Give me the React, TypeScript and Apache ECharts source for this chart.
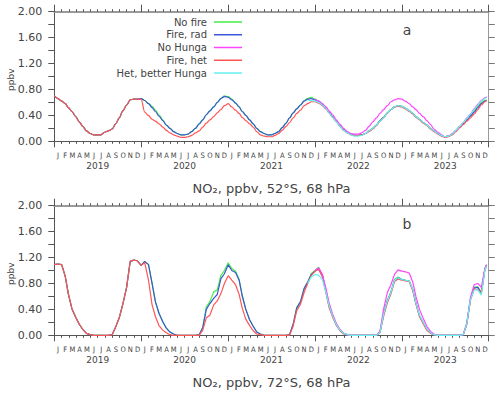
import { useEffect, useRef } from "react";
import * as echarts from "echarts";

// ---------- labels ----------
const years = ["2019", "2020", "2021", "2022", "2023"];
const monthLetters = ["J", "F", "M", "A", "M", "J", "J", "A", "S", "O", "N", "D"];
const seriesNames = ["No fire", "Fire, rad", "No Hunga", "Fire, het", "Het, better Hunga"];
const seriesColors: Record<string, string> = {
  "No fire": "#44ee44",
  "Fire, rad": "#3a56d8",
  "No Hunga": "#ff44ff",
  "Fire, het": "#ff5555",
  "Het, better Hunga": "#66f0f0",
};
const drawOrder = ["No fire", "Fire, rad", "Fire, het", "No Hunga", "Het, better Hunga"];
const panelTitles = ["NO\u2082, ppbv, 52\u00b0S, 68 hPa", "NO\u2082, ppbv, 72\u00b0S, 68 hPa"];
const panelLetters = ["a", "b"];
const yUnit = "ppbv";

// ---------- data: half-monthly values (1st and 16th of each month), last value = 23 Dec 2023 ----------
// Panel a: 52°S
const top2019 = [0.70, 0.66, 0.62, 0.58, 0.52, 0.46, 0.38, 0.30, 0.23, 0.16, 0.12, 0.10, 0.10, 0.10, 0.14, 0.16, 0.19, 0.27, 0.36, 0.47, 0.56, 0.64, 0.65, 0.65];
const topNoFire = [
  0.66, 0.63, 0.58, 0.54, 0.48, 0.41, 0.33, 0.25, 0.20, 0.15, 0.12, 0.10, 0.10, 0.11, 0.15, 0.20, 0.27, 0.33, 0.41, 0.47, 0.53, 0.60, 0.66, 0.70,
  0.69, 0.65, 0.59, 0.53, 0.46, 0.40, 0.33, 0.27, 0.20, 0.15, 0.12, 0.10, 0.10, 0.12, 0.15, 0.21, 0.28, 0.36, 0.44, 0.50, 0.56, 0.63, 0.66, 0.68,
  0.65, 0.62, 0.57, 0.52, 0.45, 0.38, 0.31, 0.24, 0.18, 0.14, 0.11, 0.09, 0.09, 0.10, 0.12, 0.16, 0.20, 0.25, 0.32, 0.37, 0.44, 0.49, 0.53, 0.55,
  0.54, 0.51, 0.47, 0.43, 0.38, 0.34, 0.29, 0.25, 0.20, 0.16, 0.12, 0.09, 0.07, 0.08, 0.11, 0.17, 0.23, 0.28, 0.34, 0.40, 0.47, 0.54, 0.60, 0.63, 0.64,
];
const topFireRad = [
  0.66, 0.63, 0.58, 0.52, 0.46, 0.39, 0.32, 0.25, 0.20, 0.15, 0.12, 0.10, 0.10, 0.11, 0.15, 0.20, 0.27, 0.33, 0.41, 0.47, 0.53, 0.60, 0.66, 0.69,
  0.68, 0.64, 0.59, 0.53, 0.46, 0.40, 0.33, 0.27, 0.20, 0.15, 0.12, 0.10, 0.10, 0.12, 0.15, 0.21, 0.28, 0.36, 0.44, 0.50, 0.56, 0.62, 0.65, 0.66,
  0.64, 0.62, 0.57, 0.52, 0.45, 0.38, 0.31, 0.24, 0.18, 0.14, 0.11, 0.09, 0.09, 0.10, 0.12, 0.16, 0.20, 0.25, 0.32, 0.37, 0.44, 0.49, 0.53, 0.55,
  0.54, 0.51, 0.47, 0.43, 0.38, 0.34, 0.29, 0.25, 0.20, 0.16, 0.12, 0.09, 0.07, 0.08, 0.11, 0.16, 0.22, 0.27, 0.33, 0.39, 0.45, 0.52, 0.58, 0.62, 0.63,
];
const topFireHet = [
  0.65, 0.45, 0.40, 0.34, 0.31, 0.27, 0.22, 0.17, 0.13, 0.10, 0.08, 0.06, 0.06, 0.07, 0.09, 0.13, 0.16, 0.22, 0.28, 0.33, 0.38, 0.44, 0.49, 0.55,
  0.58, 0.53, 0.48, 0.43, 0.37, 0.32, 0.27, 0.22, 0.15, 0.10, 0.08, 0.07, 0.07, 0.09, 0.12, 0.17, 0.23, 0.29, 0.36, 0.43, 0.48, 0.55, 0.58, 0.61,
  0.61, 0.59, 0.55, 0.50, 0.44, 0.37, 0.30, 0.23, 0.17, 0.13, 0.10, 0.09, 0.09, 0.10, 0.12, 0.15, 0.19, 0.24, 0.31, 0.36, 0.43, 0.49, 0.53, 0.54,
  0.53, 0.50, 0.46, 0.42, 0.37, 0.33, 0.28, 0.24, 0.19, 0.15, 0.11, 0.08, 0.06, 0.07, 0.10, 0.15, 0.21, 0.26, 0.31, 0.36, 0.42, 0.49, 0.56, 0.61, 0.63,
];
// from 1 Jan 2022
const topNoHunga = [
  0.65, 0.62, 0.58, 0.53, 0.47, 0.41, 0.33, 0.26, 0.20, 0.15, 0.12, 0.11, 0.11, 0.13, 0.17, 0.23, 0.30, 0.36, 0.43, 0.49, 0.55, 0.61, 0.64, 0.66,
  0.65, 0.62, 0.58, 0.53, 0.49, 0.43, 0.38, 0.32, 0.26, 0.19, 0.14, 0.10, 0.07, 0.08, 0.12, 0.17, 0.23, 0.29, 0.36, 0.42, 0.50, 0.57, 0.63, 0.67, 0.69,
];
// from 1 Dec 2021
const topHetBetter = [
  0.63, 0.63,
  0.62, 0.60, 0.56, 0.51, 0.44, 0.37, 0.30, 0.23, 0.17, 0.13, 0.10, 0.08, 0.08, 0.09, 0.12, 0.16, 0.20, 0.25, 0.31, 0.36, 0.44, 0.49, 0.53, 0.55,
  0.54, 0.51, 0.47, 0.43, 0.38, 0.34, 0.29, 0.25, 0.20, 0.16, 0.12, 0.09, 0.07, 0.08, 0.11, 0.17, 0.23, 0.29, 0.35, 0.42, 0.49, 0.56, 0.62, 0.66, 0.68,
];

// Panel b: 72°S
const bot2019 = [1.09, 1.10, 1.09, 0.91, 0.64, 0.41, 0.28, 0.17, 0.09, 0.03, 0.01, 0.00, 0.00, 0.00, 0.00, 0.00, 0.01, 0.13, 0.27, 0.48, 0.74, 1.14, 1.16, 1.15];
const botNoFire = [
  1.08, 1.14, 1.09, 0.80, 0.52, 0.34, 0.21, 0.11, 0.05, 0.02, 0.00, 0.00, 0.00, 0.00, 0.00, 0.00, 0.01, 0.12, 0.44, 0.52, 0.67, 0.70, 0.92, 1.00,
  1.12, 1.03, 0.99, 0.86, 0.61, 0.40, 0.24, 0.14, 0.05, 0.02, 0.00, 0.00, 0.00, 0.00, 0.00, 0.00, 0.00, 0.01, 0.17, 0.43, 0.52, 0.72, 0.82, 0.95,
  1.00, 1.05, 0.93, 0.68, 0.46, 0.30, 0.16, 0.08, 0.03, 0.01, 0.00, 0.00, 0.00, 0.00, 0.00, 0.00, 0.00, 0.00, 0.05, 0.33, 0.54, 0.67, 0.86, 0.90,
  0.86, 0.85, 0.84, 0.70, 0.50, 0.30, 0.19, 0.09, 0.04, 0.01, 0.00, 0.00, 0.00, 0.00, 0.00, 0.00, 0.00, 0.01, 0.18, 0.55, 0.74, 0.75, 0.66, 1.02, 1.09,
];
const botFireRad = [
  1.08, 1.14, 1.09, 0.80, 0.52, 0.34, 0.21, 0.11, 0.05, 0.02, 0.00, 0.00, 0.00, 0.00, 0.00, 0.00, 0.01, 0.12, 0.40, 0.49, 0.57, 0.63, 0.87, 0.95,
  1.09, 1.00, 0.97, 0.85, 0.61, 0.40, 0.24, 0.14, 0.05, 0.02, 0.00, 0.00, 0.00, 0.00, 0.00, 0.00, 0.00, 0.01, 0.17, 0.42, 0.52, 0.72, 0.82, 0.94,
  0.99, 1.03, 0.92, 0.68, 0.46, 0.30, 0.16, 0.08, 0.03, 0.01, 0.00, 0.00, 0.00, 0.00, 0.00, 0.00, 0.00, 0.00, 0.05, 0.32, 0.53, 0.66, 0.85, 0.89,
  0.86, 0.85, 0.84, 0.70, 0.50, 0.30, 0.19, 0.09, 0.04, 0.01, 0.00, 0.00, 0.00, 0.00, 0.00, 0.00, 0.00, 0.01, 0.18, 0.55, 0.73, 0.74, 0.65, 1.02, 1.08,
];
const botFireHet = [
  1.08, 1.12, 0.85, 0.47, 0.29, 0.15, 0.08, 0.04, 0.01, 0.00, 0.00, 0.00, 0.00, 0.00, 0.00, 0.00, 0.00, 0.08, 0.27, 0.31, 0.47, 0.53, 0.64, 0.80,
  0.92, 0.85, 0.78, 0.63, 0.42, 0.25, 0.15, 0.07, 0.02, 0.01, 0.00, 0.00, 0.00, 0.00, 0.00, 0.00, 0.00, 0.00, 0.14, 0.38, 0.48, 0.66, 0.80, 0.92,
  0.99, 1.02, 0.90, 0.65, 0.43, 0.28, 0.15, 0.07, 0.02, 0.01, 0.00, 0.00, 0.00, 0.00, 0.00, 0.00, 0.00, 0.00, 0.04, 0.29, 0.50, 0.64, 0.83, 0.87,
  0.85, 0.84, 0.83, 0.69, 0.48, 0.29, 0.18, 0.08, 0.03, 0.01, 0.00, 0.00, 0.00, 0.00, 0.00, 0.00, 0.00, 0.01, 0.17, 0.54, 0.72, 0.70, 0.67, 1.02, 1.08,
];
// from 1 Jan 2022
const botNoHunga = [
  1.00, 1.04, 0.94, 0.72, 0.50, 0.33, 0.18, 0.09, 0.03, 0.01, 0.00, 0.00, 0.00, 0.00, 0.00, 0.00, 0.00, 0.00, 0.06, 0.40, 0.66, 0.78, 0.94, 1.01,
  0.99, 0.98, 0.96, 0.82, 0.60, 0.40, 0.26, 0.14, 0.06, 0.02, 0.00, 0.00, 0.00, 0.00, 0.00, 0.00, 0.00, 0.01, 0.19, 0.58, 0.78, 0.80, 0.74, 1.03, 1.09,
];
// from 1 Dec 2021
const botHetBetter = [
  0.80, 0.90,
  0.94, 0.93, 0.86, 0.66, 0.46, 0.30, 0.16, 0.08, 0.03, 0.01, 0.00, 0.00, 0.00, 0.00, 0.00, 0.00, 0.00, 0.00, 0.04, 0.32, 0.53, 0.66, 0.85, 0.89,
  0.86, 0.85, 0.84, 0.71, 0.50, 0.31, 0.20, 0.10, 0.04, 0.01, 0.00, 0.00, 0.00, 0.00, 0.00, 0.00, 0.00, 0.01, 0.18, 0.55, 0.70, 0.70, 0.62, 1.00, 1.07,
];

const panels = [
  {
    series: {
      "No fire": { values: [...top2019, ...topNoFire], start: 0 },
      "Fire, rad": { values: [...top2019, ...topFireRad], start: 0 },
      "Fire, het": { values: [...top2019, ...topFireHet], start: 0 },
      "No Hunga": { values: topNoHunga, start: 72 },
      "Het, better Hunga": { values: topHetBetter, start: 70 },
    } as Record<string, { values: number[]; start: number }>,
    smooth: 0.3,
  },
  {
    series: {
      "No fire": { values: [...bot2019, ...botNoFire], start: 0 },
      "Fire, rad": { values: [...bot2019, ...botFireRad], start: 0 },
      "Fire, het": { values: [...bot2019, ...botFireHet], start: 0 },
      "No Hunga": { values: botNoHunga, start: 72 },
      "Het, better Hunga": { values: botHetBetter, start: 70 },
    } as Record<string, { values: number[]; start: number }>,
    smooth: 0,
  },
];

// sample index -> time (1st / 16th of each month from Jan 2019; index 120 = 23 Dec 2023)
function sampleTime(i: number): number {
  if (i >= 120) return new Date(2023, 11, 23).getTime();
  const y = 2019 + Math.floor(i / 24);
  const m = Math.floor((i % 24) / 2);
  return new Date(y, m, i % 2 === 0 ? 1 : 16).getTime();
}

const FONT = '"DejaVu Sans", sans-serif';
const NARROW = '"Liberation Sans Narrow", "DejaVu Sans Condensed", "Liberation Sans", sans-serif';
const TEXT = "#444";
const AXIS = "#555";

export default function App() {
  const ref = useRef<HTMLDivElement>(null);
  useEffect(() => {
    if (!ref.current) return;
    const chart = echarts.init(ref.current, undefined, { renderer: "svg" });
    const t0 = new Date(2019, 0, 1).getTime();
    const t1 = new Date(2024, 0, 1).getTime();
    const monthCats: string[] = [];
    years.forEach((y) => monthLetters.forEach((_, m) => monthCats.push(`${y}-${m}`)));

    const grids = [
      { left: 54.3, top: 11.7, width: 434.4, height: 129.6 },
      { left: 54.3, top: 205.7, width: 434.4, height: 129.6 },
    ];
    const xAxis: any[] = [];
    const yAxis: any[] = [];
    const series: any[] = [];
    grids.forEach((_, g) => {
      xAxis.push(
        { type: "time", gridIndex: g, min: t0, max: t1, show: false },
        {
          type: "category", gridIndex: g, position: "bottom", data: monthCats, boundaryGap: true,
          axisLine: { show: true, onZero: false, lineStyle: { color: AXIS, width: 1 } },
          axisTick: { show: true, length: 2.5, interval: 0, lineStyle: { color: AXIS } },
          axisLabel: { show: true, interval: 0, fontSize: 7.5, color: TEXT, margin: 10, fontFamily: NARROW,
            hideOverlap: false,
            formatter: (v: string) => monthLetters[Number(v.split("-")[1])] },
          splitLine: { show: false },
        },
        {
          type: "category", gridIndex: g, position: "bottom", data: years, boundaryGap: true,
          axisLine: { show: false, onZero: false },
          axisTick: { show: true, length: 6, interval: 0, lineStyle: { color: AXIS } },
          axisLabel: { show: true, interval: 0, fontSize: 9, color: TEXT, margin: 20.5, fontFamily: FONT },
          splitLine: { show: false },
        },
        {
          type: "category", gridIndex: g, position: "top", data: monthCats, boundaryGap: true,
          axisLine: { show: true, onZero: false, lineStyle: { color: "#999", width: 2 } },
          axisTick: { show: true, length: 2.5, interval: 0, lineStyle: { color: AXIS } },
          axisLabel: { show: false },
          splitLine: { show: false },
        },
        {
          type: "category", gridIndex: g, position: "top", data: years, boundaryGap: true,
          axisLine: { show: false, onZero: false },
          axisTick: { show: true, length: 7, interval: 0, lineStyle: { color: AXIS } },
          axisLabel: { show: false },
          splitLine: { show: false },
        }
      );
      yAxis.push(
        {
          type: "value", gridIndex: g, position: "left", min: 0, max: 2, interval: 0.2,
          axisLine: { show: true, lineStyle: { color: AXIS } },
          axisTick: { show: true, length: 6, lineStyle: { color: AXIS } },
          axisLabel: {
            show: true, fontSize: 11, color: TEXT, margin: 12, fontFamily: FONT,
            formatter: (v: number) => (Math.round(v * 10) % 4 === 0 ? v.toFixed(2) : ""),
          },
          splitLine: { show: false },
        },
        {
          type: "value", gridIndex: g, position: "right", min: 0, max: 2, interval: 0.2,
          axisLine: { show: true, lineStyle: { color: "#999" } },
          axisTick: { show: true, length: 6, lineStyle: { color: "#777" } },
          axisLabel: { show: false },
          splitLine: { show: false },
        }
      );
      drawOrder.forEach((name) => {
        const s = panels[g].series[name];
        series.push({
          type: "line",
          name,
          xAxisIndex: g * 5,
          yAxisIndex: g * 2,
          data: s.values.map((v, k) => [sampleTime(s.start + k), v]),
          symbol: "none",
          showSymbol: false,
          smooth: panels[g].smooth,
          smoothMonotone: "x",
          lineStyle: { color: seriesColors[name], width: 1.2 },
          itemStyle: { color: seriesColors[name] },
          emphasis: { disabled: true },
          silent: true,
        });
      });
    });

    const graphic: any[] = [];
    grids.forEach((gr, g) => {
      graphic.push(
        {
          type: "text", x: gr.left + gr.width / 2, y: gr.top + 176.5,
          style: { text: panelTitles[g], fill: TEXT, font: `13px ${FONT}`, align: "center", verticalAlign: "middle" },
        },
        {
          type: "text", x: 407, y: gr.top + 18.5,
          style: { text: panelLetters[g], fill: TEXT, font: `14px ${FONT}`, align: "center", verticalAlign: "middle" },
        },
        {
          type: "text", x: 10.5, y: gr.top + 68, rotation: Math.PI / 2,
          style: { text: yUnit, fill: TEXT, font: `9px ${FONT}`, align: "center", verticalAlign: "middle" },
        }
      );
    });
    // legend (panel a): right-aligned names followed by a line sample
    seriesNames.forEach((name, i) => {
      const y = 22 + i * 12.75;
      graphic.push(
        {
          type: "text", x: 207, y,
          style: { text: name, fill: TEXT, font: `10px ${FONT}`, align: "right", verticalAlign: "middle" },
        },
        {
          type: "line", shape: { x1: 214, y1: y, x2: 242, y2: y },
          style: { stroke: seriesColors[name], lineWidth: 1.5 },
        }
      );
    });

    chart.setOption({
      animation: false,
      backgroundColor: "#fff",
      textStyle: { fontFamily: FONT },
      grid: grids,
      xAxis,
      yAxis,
      series,
      graphic,
    });
    return () => chart.dispose();
  }, []);
  return (
    <div
      ref={ref}
      style={{ position: "fixed", left: 0, top: 0, width: 500, height: 394, background: "#fff" }}
    />
  );
}
